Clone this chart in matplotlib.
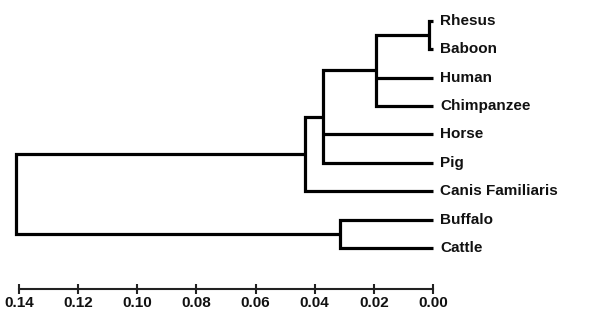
import matplotlib
matplotlib.use("Agg")
import matplotlib.pyplot as plt
from matplotlib.path import Path
from matplotlib.patches import PathPatch

# ---- data ----
leaves = ["Rhesus", "Baboon", "Human", "Chimpanzee", "Horse", "Pig",
          "Canis Familiaris", "Buffalo", "Cattle"]
node_names = ["n0", "n1", "n2", "n3", "n4", "root"]
node_children = [["Rhesus", "Baboon"],
                 ["n0", "Human", "Chimpanzee"],
                 ["n1", "Horse", "Pig"],
                 ["n2", "Canis Familiaris"],
                 ["Buffalo", "Cattle"],
                 ["n3", "n4"]]
node_heights = [0.0012, 0.0193, 0.0372, 0.0433, 0.0315, 0.1409]
tick_values = [0.14, 0.12, 0.10, 0.08, 0.06, 0.04, 0.02, 0.00]

# ---- layout ----
W, H = 613, 313
fig = plt.figure(figsize=(W / 100, H / 100), dpi=100)
x_left_px, x_right_px = 19, 433
leaf_top_px, leaf_step_px = 20.7, 28.45
axis_px = 289
ax = fig.add_axes([x_left_px / W, 0, (x_right_px - x_left_px) / W, 1])
ax.set_xlim(0.14, 0.0)
ax.set_ylim((H - leaf_top_px) / leaf_step_px, -leaf_top_px / leaf_step_px)

pos = {}
height = {}
for i, name in enumerate(leaves):
    pos[name] = i
    height[name] = 0.0

lw = 2.3
for name, ch, h in zip(node_names, node_children, node_heights):
    ys = [pos[c] for c in ch]
    ymin, ymax = min(ys), max(ys)
    first = min(ch, key=lambda c: pos[c])
    last = max(ch, key=lambda c: pos[c])
    verts = [(height[first], pos[first]), (h, pos[first]), (h, pos[last]),
             (height[last], pos[last])]
    codes = [Path.MOVETO, Path.LINETO, Path.LINETO, Path.LINETO]
    p = PathPatch(Path(verts, codes), fill=False, lw=lw, ec="black",
                  joinstyle="miter", capstyle="butt", clip_on=False)
    ax.add_patch(p)
    for c in ch:
        if c not in (first, last):
            ax.plot([height[c], h], [pos[c], pos[c]], color="black", lw=lw,
                    solid_capstyle="butt", clip_on=False)
    pos[name] = (ymin + ymax) / 2
    height[name] = h

for i, name in enumerate(leaves):
    ax.annotate(name, xy=(0.0, i), xytext=(5, 0), textcoords="offset points",
                ha="left", va="center", fontsize=11, fontweight="bold",
                family="Liberation Sans", color="#111111", annotation_clip=False)

for s in ["left", "right", "top"]:
    ax.spines[s].set_visible(False)
ax.spines["bottom"].set_position(("data", (axis_px - leaf_top_px) / leaf_step_px))
ax.spines["bottom"].set_linewidth(1.5)
ax.spines["bottom"].set_color("#222222")
ax.set_yticks([])
ax.set_xticks(tick_values)
ax.set_xticklabels([f"{v:.2f}" for v in tick_values], fontsize=11,
                   fontweight="bold", family="Liberation Sans", color="#111111")
ax.tick_params(axis="x", direction="inout", length=7, width=1.5, pad=1.5,
               color="#222222")
ax.patch.set_visible(False)

fig.savefig("out.png", dpi=100)
